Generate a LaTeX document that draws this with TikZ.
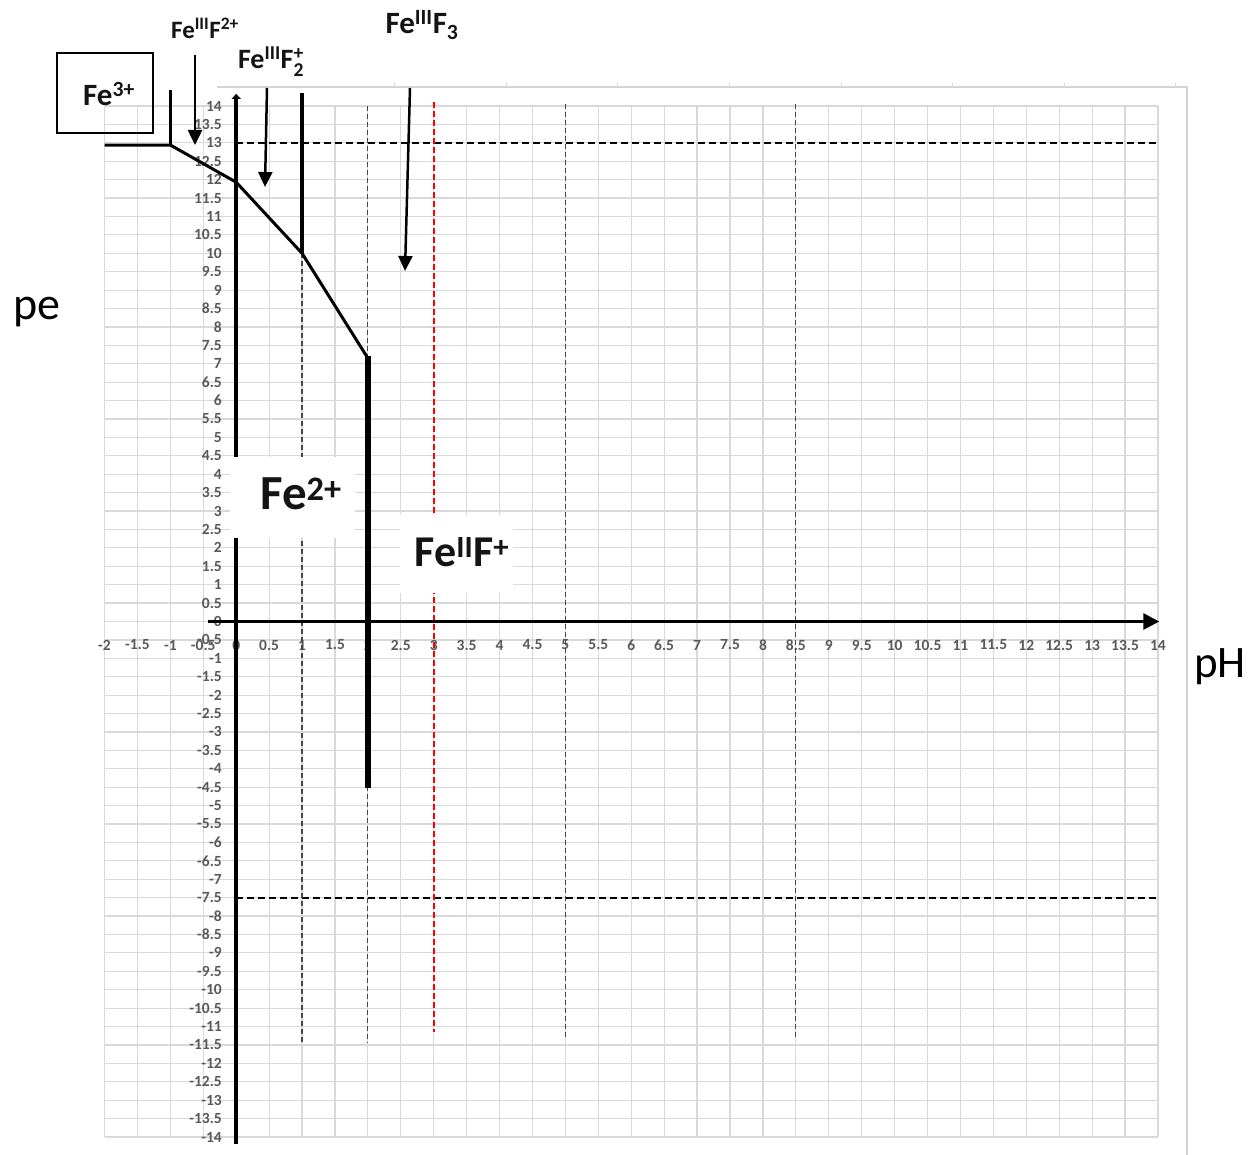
\documentclass[tikz,border=0pt]{standalone}
\usepackage{fontspec}
\setmainfont{Carlito}
\usepackage{amsmath}
\usetikzlibrary{arrows.meta}
\definecolor{gridc}{RGB}{217,217,217}
\definecolor{tickc}{RGB}{89,89,89}
\definecolor{dashc}{RGB}{70,70,70}
\definecolor{phthree}{RGB}{255,0,0}
\definecolor{framec}{RGB}{212,212,212}
\definecolor{inkc}{RGB}{20,20,20}
\begin{document}
\begin{tikzpicture}[x=1pt,y=-1pt,
  gridline/.style={draw=gridc, line width=1.2pt},
  ticklbl/.style={text=tickc, font=\fontsize{15.5}{16}\selectfont\bfseries, inner sep=0pt},
  hdash/.style={draw=black, line width=1.8pt, dash pattern=on 7pt off 4pt},
  vdash/.style={draw=dashc, line width=1.2pt, dash pattern=on 5pt off 3pt},
  rdash/.style={draw=phthree, line width=1.7pt, dash pattern=on 6pt off 3pt},
  bnd/.style={draw=black, line width=3pt, line join=miter},
  arr/.style={draw=black, line width=2.5pt, -{Triangle[length=15pt,width=14pt]}},
  lbl/.style={text=inkc, inner sep=0pt, font=\fontsize{24}{26}\selectfont\bfseries},
  whitebox/.style={fill=white, draw=none, inner sep=0pt},
  framel/.style={draw=framec, line width=1.5pt}
]
\useasboundingbox (0,0) rectangle (1252,1155);
\fill[white] (0,0) rectangle (1252,1155);

% outer chart frame remnants
\draw[framel] (217,87) -- (1187,87) -- (1187,1155);
\foreach \t in {394,506,617,729,841,952,1064,1175}
  \draw[framel, line width=1pt] (\t,87) -- (\t,83);

\begin{scope}[shift={(236.2,621.5)}, x=65.84pt, y=36.82pt]
  % grid
  \foreach \i in {0,...,32}
    \draw[gridline] ({-2+\i/2},-14) -- ({-2+\i/2},14);
  \foreach \j in {0,...,56}
    \draw[gridline] (-2,{-14+\j/2}) -- (14,{-14+\j/2});
  % tick labels
  \foreach \v [count=\k] in {-2,-1.5,-1,-0.5,0,0.5,1,1.5,2,2.5,3,3.5,4,4.5,5,5.5,6,6.5,7,7.5,8,8.5,9,9.5,10,10.5,11,11.5,12,12.5,13,13.5,14}
    \node[ticklbl] (xl\k) at (\v,-0.638) {\v};
  \foreach \v [count=\k] in {14,13.5,13,12.5,12,11.5,11,10.5,10,9.5,9,8.5,8,7.5,7,6.5,6,5.5,5,4.5,4,3.5,3,2.5,2,1.5,1,0.5,0,-0.5,-1,-1.5,-2,-2.5,-3,-3.5,-4,-4.5,-5,-5.5,-6,-6.5,-7,-7.5,-8,-8.5,-9,-9.5,-10,-10.5,-11,-11.5,-12,-12.5,-13,-13.5,-14}
    \node[ticklbl, anchor=east] (yl\k) at (-0.216,\v) {\v};

  % dashed reference lines
  \draw[hdash] (0,13) -- (14,13);
  \draw[hdash] (0,-7.5) -- (14,-7.5);
  \draw[vdash] (1,10) -- (1,-11.45);
  \draw[vdash] (2,14) -- (2,-11.45);
  \draw[rdash] (3,14.11) -- (3,-11.16);
  \draw[vdash] (5,14.05) -- (5,-11.28);
  \draw[vdash] (8.5,14.05) -- (8.5,-11.28);

  % axes
  \draw[line width=3pt, -{Triangle[length=16pt,width=16pt]}] (-0.43,0) -- (14.02,0);
  \draw[line width=3.5pt, -{Triangle[length=5pt,width=9pt]}] (0,-14.19) -- (0,14.33);

  % boundaries
  \coordinate (p0) at (-2,12.94);
  \coordinate (p1) at (-1,12.94);
  \coordinate (p2) at (0,11.93);
  \coordinate (p3) at (1,10.0);
  \coordinate (p4) at (2,7.15);
  \draw[bnd] (p0) -- (p1) -- (p2) -- (p3) -- (p4);
  \draw[bnd] (p1) -- (-1,14.43);
  \draw[bnd, line width=3.5pt] (p3) -- (1,14.35);
  \draw[bnd, line width=6pt] (2,7.2) -- (2,-4.52);
\end{scope}

% white label boxes over the plot
\node[whitebox, minimum width=125pt, minimum height=81pt] (fe2box) at (292.5,497.5) {};
\node[whitebox, minimum width=113pt, minimum height=78pt] (fe2fbox) at (456.5,554) {};

% labels
\node[draw=black, line width=1.6pt, minimum width=96pt, minimum height=80pt, inner sep=0pt] (fe3box) at (105,93) {};
\node[lbl, font=\fontsize{31}{33}\selectfont\bfseries] (fe3) at (109,94) {Fe$^{\text{3+}}$};
\node[lbl, font=\fontsize{25}{27}\selectfont\bfseries] (fef) at (205,28) {Fe$^{\text{III}}$F$^{\text{2+}}$};
\node[lbl, font=\fontsize{28}{30}\selectfont\bfseries] (fef2) at (271,62) {Fe$^{\text{III}}$F$^{\text{+}}_{\text{2}}$};
\node[lbl, font=\fontsize{31}{33}\selectfont\bfseries] (fef3) at (422,25) {Fe$^{\text{III}}$F$_{\text{3}}$};
\node[lbl, font=\fontsize{49}{51}\selectfont\bfseries] (fe2) at (301,494) {Fe$^{\text{2+}}$};
\node[lbl, font=\fontsize{44}{46}\selectfont\bfseries] (fe2f) at (462,552) {Fe$^{\text{II}}$F$^{\text{+}}$};
\node[inner sep=0pt, font=\fontsize{46}{48}\selectfont] (pe) at (37,312) {pe};
\node[inner sep=0pt, font=\fontsize{45}{47}\selectfont] (ph) at (1220,667) {pH};

% pointer arrows
\coordinate (a1s) at (195,55);  \coordinate (a1e) at (195,145);
\coordinate (a2s) at (267,88);  \coordinate (a2e) at (265,187);
\coordinate (a3s) at (410,88);  \coordinate (a3e) at (405,271);
\draw[arr] (a1s) -- (a1e);
\draw[arr] (a2s) -- (a2e);
\draw[arr] (a3s) -- (a3e);
\end{tikzpicture}
\end{document}
